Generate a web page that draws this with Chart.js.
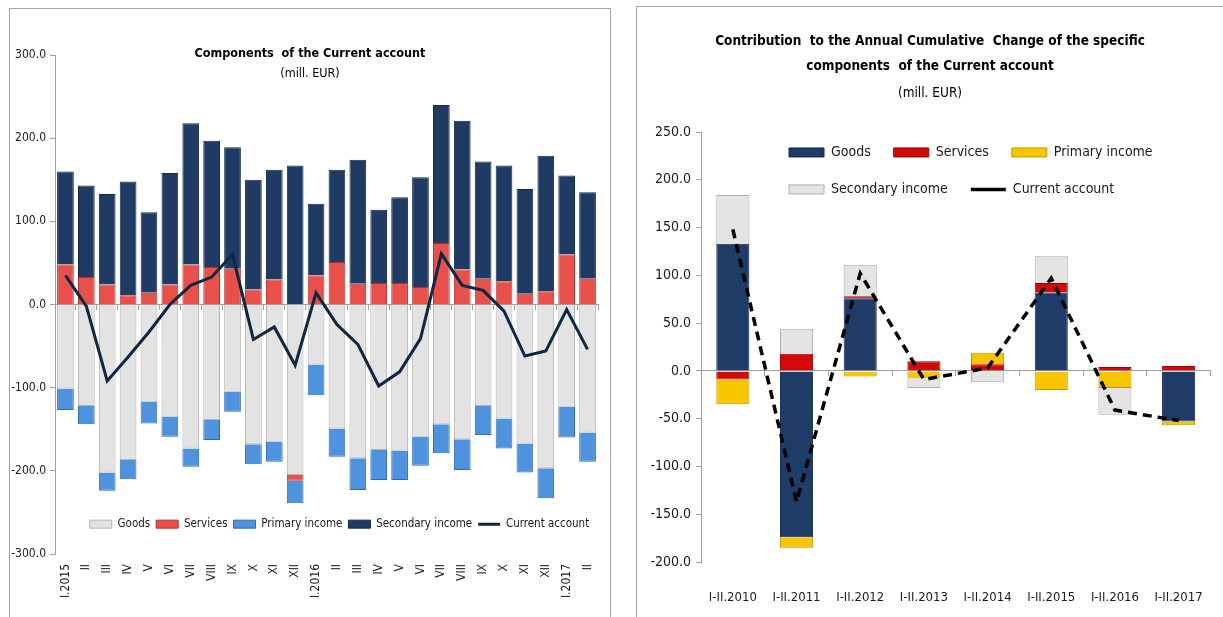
<!DOCTYPE html>
<html>
<head>
<meta charset="utf-8">
<title>Current account</title>
<script src="https://cdn.jsdelivr.net/npm/chart.js@4.4.1/dist/chart.umd.min.js"></script>
<style>
  body { margin: 0; background: #fff; width: 1223px; height: 617px; overflow: hidden; position: relative;
         font-family: "Liberation Sans Narrow", "DejaVu Sans Condensed", "Liberation Sans", sans-serif; }
  .panel { position: absolute; border: 1px solid #a6a6a6; box-sizing: border-box; }
  #p1 { left: 9px; top: 8px; width: 602px; height: 640px; }
  #p2 { left: 636px; top: 6px; width: 620px; height: 640px; }
  .wrap { position: absolute; }
  #w1 { left: 10px; top: 9px; width: 600px; height: 608px; }
  #w2 { left: 637px; top: 7px; width: 586px; height: 610px; }
  .title { position: absolute; text-align: center; color: #000; pointer-events: none; }
  #t1 { left: 10px; width: 600px; top: 43px; font-size: 12.5px; line-height: 20px; }
  #t2 { left: 637px; width: 586px; top: 28px; font-size: 13.5px; line-height: 25px; }
  .title b { font-weight: bold; }
  .sub { font-size: 12.5px; }
  #t2 .sub { font-size: 13.5px; line-height: 29px; }
</style>
</head>
<body>
<div class="panel" id="p1"></div>
<div class="panel" id="p2"></div>
<div class="wrap" id="w1"><canvas id="chart1"></canvas></div>
<div class="wrap" id="w2"><canvas id="chart2"></canvas></div>
<div class="title" id="t1"><b>Components&nbsp; of the Current account</b><br><span class="sub">(mill. EUR)</span></div>
<div class="title" id="t2"><b>Contribution&nbsp; to the Annual Cumulative&nbsp; Change of the specific<br>components&nbsp; of the Current account</b><br><span class="sub">(mill. EUR)</span></div>

<script>
// ---- left chart: monthly components ----
const months = ['I.2015','II','III','IV','V','VI','VII','VIII','IX','X','XI','XII',
                'I.2016','II','III','IV','V','VI','VII','VIII','IX','X','XI','XII',
                'I.2017','II'];
const goods     = [-101,-122,-202,-187,-117,-135,-173,-139,-105,-168,-165,-205,-72,-149,-185,-175,-176,-159,-144,-162,-122,-137,-167,-197,-123,-154];
const services  = [48,33,24,11,14,24,48,45,43,18,30,-7,35,51,25,26,26,21,74,42,31,28,13,16,60,31];
const primary   = [-26,-22,-22,-23,-26,-24,-22,-24,-24,-24,-24,-27,-37,-34,-38,-36,-35,-35,-35,-37,-35,-36,-35,-36,-37,-35];
const secondary = [112,110,109,137,97,134,170,152,146,132,132,167,86,111,149,88,103,132,166,179,141,139,126,163,95,104];
const current   = [35,-2,-92,-63,-33,0,23,33,60,-42,-27,-73,14,-24,-48,-98,-81,-41,61,23,17,-8,-62,-56,-6,-54];

// ---- right chart: contribution to annual cumulative change ----
const periods     = ['I-II.2010','I-II.2011','I-II.2012','I-II.2013','I-II.2014','I-II.2015','I-II.2016','I-II.2017'];
const goodsC      = [133,-174,76,0,0,82,0,-53];
const servicesC   = [-9,18,2,10,7,10,4,5];
const primaryC    = [-26,-11,-6,-8,12,-20,-18,-4];
const secondaryC  = [51,26,33,-10,-12,28,-28,0];
const currentC    = [148,-137,102,-9,3,97,-41,-52];

const FONT = '"Liberation Sans Narrow", "DejaVu Sans Condensed", "Liberation Sans", sans-serif';
Chart.defaults.font.family = FONT;
Chart.defaults.color = '#1a1a1a';
Chart.defaults.animation = false;

// legend drawn as horizontal rows, but inside the plot area
const legendPlace = {
  id: 'legendPlace',
  beforeLayout(chart) {
    chart.legend.isHorizontal = () => true;
  },
  afterLayout(chart, args, opts) {
    const lg = chart.legend;
    const area = chart.chartArea;
    const top = chart.scales.y.getPixelForValue(opts.value);
    lg.top = top;
    lg.bottom = top + lg.height;
    lg.left = area.left + opts.dx;
    lg.right = lg.left + lg.width;
  }
};

function bar(label, data, bg, border) {
  return { type: 'bar', label: label, data: data, backgroundColor: bg, borderColor: border,
           borderWidth: 1, order: 1, pointStyle: 'rect' };
}

new Chart(document.getElementById('chart1'), {
  data: {
    labels: months,
    datasets: [
      bar('Goods', goods, '#e3e3e3', '#b5b5b5'),
      bar('Services', services, '#e8504b', '#b3302c'),
      bar('Primary income', primary, '#4f93de', '#2d6ab0'),
      bar('Secondary income', secondary, '#1f3a63', '#132a4a'),
      { type: 'line', label: 'Current account', data: current, borderColor: '#0e2744',
        backgroundColor: '#0e2744', borderWidth: 3, pointRadius: 0, tension: 0,
        stack: 'line', order: 0, pointStyle: 'line' }
    ]
  },
  options: {
    responsive: true,
    maintainAspectRatio: false,
    layout: { padding: { top: 46, right: 12, left: 0, bottom: 0 } },
    datasets: { bar: { barPercentage: 0.8, categoryPercentage: 1.0 } },
    scales: {
      x: {
        stacked: true,
        grid: { display: false },
        border: { display: false },
        ticks: { minRotation: 90, maxRotation: 90, autoSkip: false, padding: 2, font: { size: 12 } },
        afterFit: s => { s.height = 63; }
      },
      x2: {
        type: 'category', axis: 'x', position: { y: 0 }, offset: true,
        grid: { offset: true, drawOnChartArea: false, drawTicks: true, tickLength: 5, color: '#a0a0a0' },
        border: { color: '#a0a0a0' },
        ticks: { display: false }
      },
      y: {
        stacked: true, min: -300, max: 300,
        grid: { drawOnChartArea: false, drawTicks: true, tickLength: 5, color: '#a0a0a0' },
        border: { color: '#a0a0a0' },
        ticks: { stepSize: 100, padding: 4, font: { size: 12 }, callback: v => v.toFixed(1) },
        afterFit: s => { s.width = 45; }
      }
    },
    plugins: {
      title: { display: false },
      tooltip: { enabled: false },
      legend: {
        position: 'chartArea', align: 'center',
        labels: { usePointStyle: true, pointStyleWidth: 22, boxHeight: 8, padding: 6,
                  font: { size: 11.5 }, color: '#1a1a1a',
                  sort: (a, b) => a.datasetIndex - b.datasetIndex }
      },
      legendPlace: { value: -250, dx: 13 }
    }
  },
  plugins: [legendPlace]
});

new Chart(document.getElementById('chart2'), {
  data: {
    labels: periods,
    datasets: [
      bar('Goods', goodsC, '#1f3b68', '#12284a'),
      bar('Services', servicesC, '#d20a0a', '#980000'),
      bar('Primary income', primaryC, '#f7c600', '#c29600'),
      bar('Secondary income', secondaryC, '#e4e4e4', '#adadad'),
      { type: 'line', label: 'Current account', data: currentC, borderColor: '#000',
        backgroundColor: '#000', borderWidth: 3.5, borderDash: [9, 6], pointRadius: 0, tension: 0,
        stack: 'line', order: 0, pointStyle: 'line' }
    ]
  },
  options: {
    responsive: true,
    maintainAspectRatio: false,
    layout: { padding: { top: 125, right: 6, left: 0, bottom: 0 } },
    datasets: { bar: { barPercentage: 0.52, categoryPercentage: 1.0 } },
    scales: {
      x: {
        stacked: true,
        grid: { display: false },
        border: { display: false },
        ticks: { maxRotation: 0, autoSkip: false, padding: 20, font: { size: 13 } },
        afterFit: s => { s.height = 55; }
      },
      x2: {
        type: 'category', axis: 'x', position: { y: 0 }, offset: true,
        grid: { offset: true, drawOnChartArea: false, drawTicks: true, tickLength: 5, color: '#a0a0a0' },
        border: { color: '#a0a0a0' },
        ticks: { display: false }
      },
      y: {
        stacked: true, min: -200, max: 250,
        grid: { drawOnChartArea: false, drawTicks: true, tickLength: 5, color: '#a0a0a0' },
        border: { color: '#a0a0a0' },
        ticks: { stepSize: 50, padding: 5, font: { size: 14 }, callback: v => v.toFixed(1) },
        afterFit: s => { s.width = 64; }
      }
    },
    plugins: {
      title: { display: false },
      tooltip: { enabled: false },
      legend: {
        position: 'chartArea', align: 'start',
        labels: { usePointStyle: true, pointStyleWidth: 35, boxHeight: 9, padding: 23,
                  font: { size: 14 }, color: '#1a1a1a',
                  sort: (a, b) => a.datasetIndex - b.datasetIndex }
      },
      legendPlace: { value: 260, dx: 65 }
    }
  },
  plugins: [legendPlace]
});
</script>
</body>
</html>
